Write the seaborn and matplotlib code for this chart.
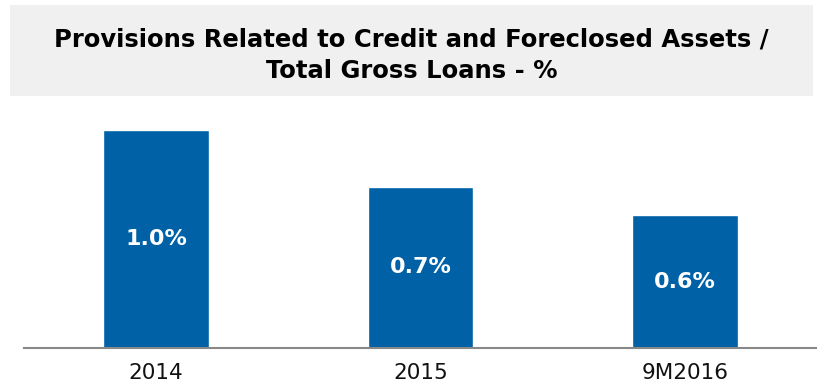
import matplotlib
matplotlib.use("Agg")
import matplotlib.pyplot as plt
import seaborn as sns
import pandas as pd
from matplotlib.patches import Rectangle

# data
periods = ["2014", "2015", "9M2016"]
ratio = [1.0, 0.74, 0.61]
labels = ["1.0%", "0.7%", "0.6%"]

title = "Provisions Related to Credit and Foreclosed Assets /\nTotal Gross Loans - %"

sns.set_style("white")
plt.rcParams["font.family"] = ["DejaVu Sans"]

df = pd.DataFrame({"period": periods, "ratio": ratio})

fig = plt.figure(figsize=(8.17, 3.9), dpi=100)

# grey title band
fig.patches.append(Rectangle((0.0122, 0.7538), 0.983, 0.2333, transform=fig.transFigure,
                             facecolor="#f0f0f0", edgecolor="none", zorder=0))
fig.text(0.504, 0.859, title, ha="center", va="center", fontsize=17.5,
         fontweight="bold", color="black", linespacing=1.4)

ax = fig.add_axes([0.0294, 0.1077, 0.9706, 0.6103])
sns.barplot(data=df, x="period", y="ratio", color="#0061a7", width=0.4,
            saturation=1, ax=ax)

ax.bar_label(ax.containers[0], labels=labels, label_type="center",
             color="white", fontsize=16, fontweight="bold")

ax.set_xlim(-0.5, 2.5)
ax.set_ylim(0, 1.092)
ax.set_xlabel("")
ax.set_ylabel("")
ax.set_yticks([])
ax.tick_params(axis="x", length=0, pad=11, labelsize=15.5, labelcolor="#111111")
for s in ["top", "left", "right"]:
    ax.spines[s].set_visible(False)
ax.spines["bottom"].set_color("#888888")
ax.spines["bottom"].set_linewidth(1.5)

fig.savefig("out.png", dpi=100)
